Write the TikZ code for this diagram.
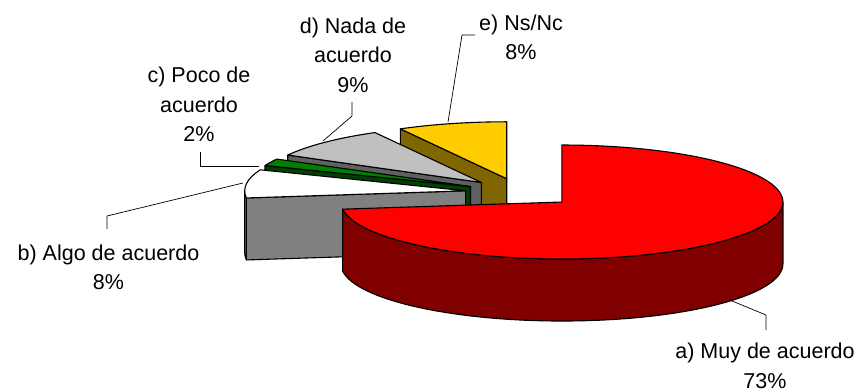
\documentclass[tikz,border=0pt]{standalone}
\usepackage{fontspec}
\setmainfont{Liberation Sans}
\usetikzlibrary{calc}
\def\PRx{221}
\def\PRy{57}
\def\PDep{62}
\newcommand\ptop[4]{\filldraw[face, fill=#4] (#1) -- ($(#1)+(#2:\PRx pt and \PRy pt)$) arc[start angle=#2, end angle=#3, x radius=\PRx pt, y radius=\PRy pt] -- cycle;}
\newcommand\pradial[3]{\filldraw[face, fill=#3] (#1) -- ($(#1)+(#2:\PRx pt and \PRy pt)$) -- ++(0,-\PDep) -- ($(#1)+(0,-\PDep)$) -- cycle;}
\newcommand\pcurve[4]{\filldraw[face, fill=#4] ($(#1)+(#2:\PRx pt and \PRy pt)$) arc[start angle=#2, end angle=#3, x radius=\PRx pt, y radius=\PRy pt] -- ++(0,-\PDep) arc[start angle=#3, end angle=#2, x radius=\PRx pt, y radius=\PRy pt] -- cycle;}
\definecolor{redtop}{HTML}{FF0000}
\definecolor{redside}{HTML}{800000}
\definecolor{whiteside}{HTML}{808080}
\definecolor{greentop}{HTML}{008000}
\definecolor{greenside}{HTML}{004000}
\definecolor{graytop}{HTML}{C0C0C0}
\definecolor{grayside}{HTML}{606060}
\definecolor{yellowtop}{HTML}{FFCC00}
\definecolor{yellowside}{HTML}{806600}
\begin{document}
\begin{tikzpicture}[x=1pt,y=1pt, line join=round,
  face/.style={draw=black, line width=1.1pt},
  leader/.style={draw=black, line width=0.7pt},
  lbl/.style={align=center, anchor=base, inner sep=0pt, font=\fontsize{21.5}{29.5}\selectfont}]
\useasboundingbox (0,0) rectangle (862,391);
\coordinate (C0) at (520.5,198.4);
\coordinate (Ca) at ($(C0)+(318.6:55.25pt and 14.25pt)$);
\coordinate (Cb) at ($(C0)+(172.8:55.25pt and 14.25pt)$);
\coordinate (Cc) at ($(C0)+(154.8:55.25pt and 14.25pt)$);
\coordinate (Cd) at ($(C0)+(135:55.25pt and 14.25pt)$);
\coordinate (Ce) at ($(C0)+(104.4:55.25pt and 14.25pt)$);
% e) Ns/Nc
\pradial{Ce}{118.8}{yellowside}
\ptop{Ce}{90}{118.8}{yellowtop}
% d) Nada de acuerdo
\pradial{Cd}{151.2}{grayside}
\ptop{Cd}{118.8}{151.2}{graytop}
% c) Poco de acuerdo
\pradial{Cc}{158.4}{greenside}
\ptop{Cc}{151.2}{158.4}{greentop}
% b) Algo de acuerdo
\pcurve{Cb}{180}{187.2}{whiteside}
\pradial{Cb}{187.2}{whiteside}
\ptop{Cb}{158.4}{187.2}{white}
% a) Muy de acuerdo
\pcurve{Ca}{187.2}{360}{redside}
\ptop{Ca}{187.2}{450}{redtop}
% labels (anchor = baseline of the last line)
\node[lbl] (la) at (765,3) {a) Muy de acuerdo\\73\%};
\node[lbl] (lb) at (108.5,101) {b) Algo de acuerdo\\8\%};
\node[lbl] (lc) at (199,249.3) {c) Poco de\\acuerdo\\2\%};
\node[lbl] (ld) at (353,298.7) {d) Nada de\\acuerdo\\9\%};
\node[lbl] (le) at (521,331) {e) Ns/Nc\\8\%};
% leader points
\coordinate (pa) at ($(Ca)+(-40:\PRx pt and \PRy pt)+(0,-\PDep)$);
\coordinate (qa) at (766,76);
\coordinate (ra) at (766,61);
\coordinate (pb) at (243,208);
\coordinate (qb) at (107,175);
\coordinate (rb) at (107,162);
\coordinate (pc) at (259,225);
\coordinate (qc) at (200,225);
\coordinate (rc) at (200,239);
\coordinate (pd) at (323,250);
\coordinate (qd) at (352,275);
\coordinate (rd) at (352,289);
\coordinate (pe) at (448,269);
\coordinate (qe) at (462,356);
\coordinate (re) at (475,356);
\draw[leader] (pa) -- (qa) -- (ra);
\draw[leader] (pb) -- (qb) -- (rb);
\draw[leader] (pc) -- (qc) -- (rc);
\draw[leader] (pd) -- (qd) -- (rd);
\draw[leader] (pe) -- (qe) -- (re);
\end{tikzpicture}
\end{document}
